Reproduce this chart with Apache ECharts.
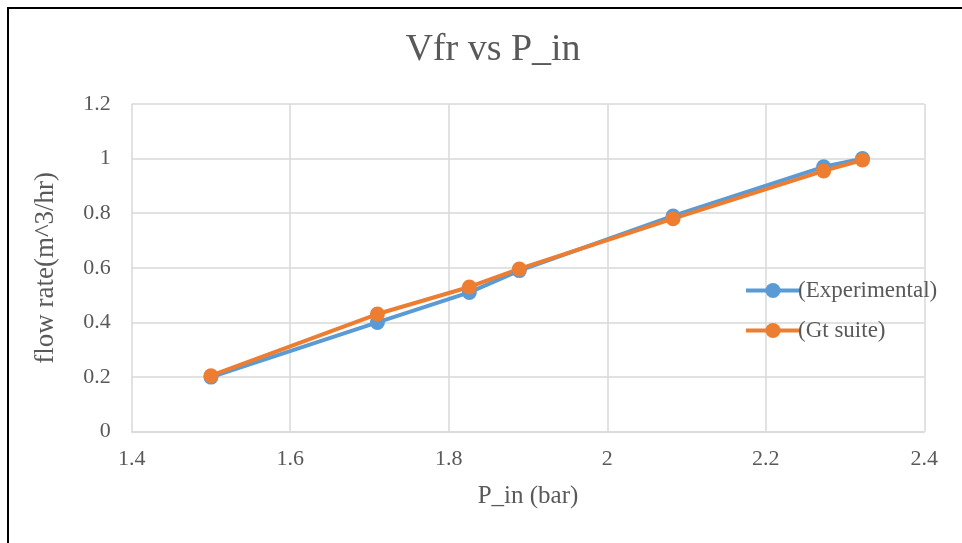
<!DOCTYPE html>
<html>
<head>
<meta charset="utf-8">
<title>Vfr vs P_in</title>
<script src="https://cdn.jsdelivr.net/npm/echarts@6/dist/echarts.min.js"></script>
<style>
  html, body { margin: 0; padding: 0; background: #ffffff; }
  #chart { width: 962px; height: 543px; }
</style>
</head>
<body>
<div id="chart"></div>
<script>
// Inlet pressure (bar) shared by both data sets
var pressureIn = [1.5, 1.71, 1.826, 1.889, 2.083, 2.273, 2.322];
// Volumetric flow rate (m^3/hr)
var flowExperimental = [0.2, 0.4, 0.51, 0.59, 0.79, 0.97, 1.0];
var flowGtSuite = [0.205, 0.431, 0.53, 0.596, 0.78, 0.955, 0.995];
var seriesNames = ['(Experimental)', '(Gt suite)'];

var FONT = '"Liberation Serif", "Times New Roman", serif';
var TEXT = '#595959';
var GRID = '#d9d9d9';

function pairs(xs, ys) {
  return xs.map(function (x, i) { return [x, ys[i]]; });
}

var chart = echarts.init(document.getElementById('chart'), null, { renderer: 'canvas' });

chart.setOption({
  backgroundColor: '#ffffff',
  animation: false,
  textStyle: { fontFamily: FONT, color: TEXT },
  graphic: [{
    type: 'rect',
    shape: { x: 8, y: 8, width: 1000, height: 600 },
    style: { fill: 'none', stroke: '#000000', lineWidth: 2 },
    silent: true
  }],
  title: {
    text: 'Vfr vs P_in',
    left: 488,
    textAlign: 'center',
    top: 26,
    textStyle: { fontFamily: FONT, fontSize: 38, fontWeight: 'normal', color: TEXT }
  },
  grid: { left: 131.7, right: 37.7, top: 104, bottom: 111.3, containLabel: false },
  legend: {
    orient: 'vertical',
    left: 739,
    top: 274,
    itemWidth: 54,
    itemHeight: 19,
    itemGap: 17,
    data: seriesNames,
    lineStyle: { width: 4 },
    textStyle: { fontFamily: FONT, fontSize: 23, color: TEXT, padding: [0, 0, 0, -7] }
  },
  xAxis: {
    type: 'value',
    min: 1.4,
    max: 2.4,
    interval: 0.2,
    name: 'P_in (bar)',
    nameLocation: 'middle',
    nameGap: 52,
    nameTextStyle: { fontFamily: FONT, fontSize: 25, color: TEXT },
    axisLine: { show: true, lineStyle: { color: GRID, width: 1.5 } },
    axisTick: { show: false },
    axisLabel: { fontFamily: FONT, fontSize: 22, color: TEXT, margin: 17 },
    splitLine: { show: true, lineStyle: { color: GRID, width: 1.5 } }
  },
  yAxis: {
    type: 'value',
    min: 0,
    max: 1.2,
    interval: 0.2,
    name: 'flow rate(m^3/hr)',
    nameLocation: 'middle',
    nameGap: 72,
    nameTextStyle: { fontFamily: FONT, fontSize: 27, color: TEXT },
    axisLine: { show: false },
    axisTick: { show: false },
    axisLabel: { fontFamily: FONT, fontSize: 22, color: TEXT, margin: 21 },
    splitLine: { show: true, lineStyle: { color: GRID, width: 1.5 } }
  },
  series: [
    {
      name: seriesNames[0],
      type: 'line',
      data: pairs(pressureIn, flowExperimental),
      symbol: 'circle',
      symbolSize: 15,
      color: '#5B9BD5',
      lineStyle: { width: 4, color: '#5B9BD5' },
      itemStyle: { color: '#5B9BD5' }
    },
    {
      name: seriesNames[1],
      type: 'line',
      data: pairs(pressureIn, flowGtSuite),
      symbol: 'circle',
      symbolSize: 15,
      color: '#ED7D31',
      lineStyle: { width: 4, color: '#ED7D31' },
      itemStyle: { color: '#ED7D31' }
    }
  ]
});
</script>
</body>
</html>
